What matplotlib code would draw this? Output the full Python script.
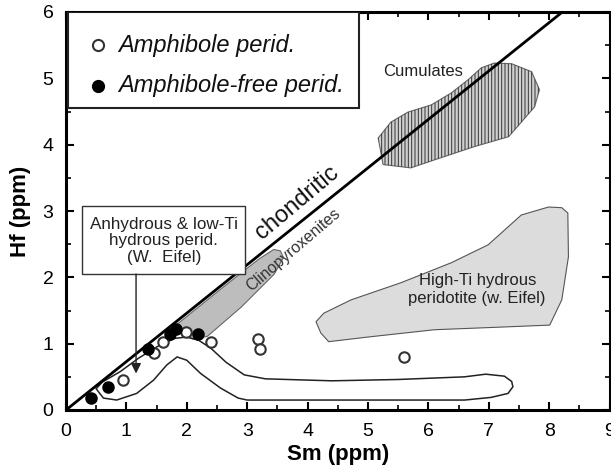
import matplotlib
matplotlib.use("Agg")
import matplotlib.pyplot as plt
from matplotlib.patches import Polygon
from matplotlib.ticker import MultipleLocator

plt.rcParams['font.family'] = ['Liberation Sans', 'DejaVu Sans']
plt.rcParams['hatch.linewidth'] = 0.7

# Sample data (Sm, Hf in ppm)
amph_sm = [0.95, 1.45, 1.61, 1.99, 2.40, 3.18, 3.21, 5.59]
amph_hf = [0.45, 0.86, 1.02, 1.18, 1.03, 1.07, 0.92, 0.80]
free_sm = [0.41, 0.70, 1.35, 1.72, 1.82, 2.19]
free_hf = [0.18, 0.35, 0.92, 1.15, 1.22, 1.15]

# Chondritic Hf/Sm ratio
chondritic_ratio = 0.73

# Field outlines
cumulates_sm = [5.17, 5.25, 5.71, 6.10, 6.76, 7.33, 7.76, 7.84, 7.71, 7.38, 7.09,
                6.88, 6.66, 6.38, 6.05, 5.66, 5.38]
cumulates_hf = [4.10, 3.70, 3.65, 3.77, 3.97, 4.12, 4.57, 4.83, 5.10, 5.22, 5.23,
                5.16, 4.98, 4.78, 4.60, 4.49, 4.34]

highti_sm = [4.14, 4.22, 4.35, 5.00, 6.10, 7.21, 8.01, 8.21, 8.32, 8.31, 8.21,
             7.99, 7.54, 6.99, 6.38, 5.55, 4.72, 4.27]
highti_hf = [1.33, 1.16, 1.03, 1.10, 1.21, 1.25, 1.28, 1.66, 2.31, 2.97, 3.05,
             3.06, 2.94, 2.49, 2.22, 1.92, 1.66, 1.46]

cpx_sm = [1.85, 2.6, 3.2, 3.44, 3.55, 3.60, 3.45, 2.9, 2.34, 2.1, 1.92]
cpx_hf = [1.30, 1.85, 2.28, 2.42, 2.40, 2.30, 2.05, 1.55, 1.11, 1.07, 1.15]

anhyd_sm = [0.50, 0.60, 0.90, 1.20, 1.50, 1.80, 2.00, 2.20, 2.40, 2.65, 2.95, 3.30,
            4.40, 5.50, 6.60, 6.95, 7.26, 7.38, 7.40, 7.32, 7.04, 6.60, 3.00, 2.85,
            2.56, 2.23, 2.00, 1.84, 1.67, 1.45, 1.17, 0.84, 0.62, 0.55]
anhyd_hf = [0.32, 0.42, 0.58, 0.78, 0.95, 1.08, 1.10, 1.05, 0.93, 0.72, 0.53, 0.47,
            0.44, 0.46, 0.50, 0.54, 0.51, 0.43, 0.35, 0.25, 0.19, 0.15, 0.15, 0.18,
            0.33, 0.55, 0.75, 0.80, 0.68, 0.45, 0.25, 0.15, 0.18, 0.26]

x_ticks = [0, 1, 2, 3, 4, 5, 6, 7, 8, 9]
y_ticks = [0, 1, 2, 3, 4, 5, 6]

fig = plt.figure(figsize=(6.11, 4.76), dpi=100)
ax = fig.add_axes([66 / 611, 1 - 410 / 476, 543.5 / 611, 398 / 476])
ax.set_xlim(0, 9)
ax.set_ylim(0, 6)

# Fields
ax.add_patch(Polygon(list(zip(highti_sm, highti_hf)), closed=True,
                     facecolor='#dcdcdc', edgecolor='#555555', lw=0.8, zorder=1))
ax.add_patch(Polygon(list(zip(cumulates_sm, cumulates_hf)), closed=True,
                     facecolor='#d0d0d0', edgecolor='#666666', lw=0.8, zorder=1))
ax.add_patch(Polygon(list(zip(cumulates_sm, cumulates_hf)), closed=True,
                     facecolor='none', edgecolor='#333333', lw=0, hatch='|||||',
                     zorder=1.1))
ax.add_patch(Polygon(list(zip(cpx_sm, cpx_hf)), closed=True,
                     facecolor='#bdbdbd', edgecolor='#666666', lw=0.8, zorder=1))
ax.add_patch(Polygon(list(zip(anhyd_sm, anhyd_hf)), closed=True,
                     facecolor='none', edgecolor='#222222', lw=1.1, zorder=2))

# Chondritic reference line
ax.plot([0, 9], [0, 9 * chondritic_ratio], color='black', lw=2, zorder=3)

# Samples
ax.plot(amph_sm, amph_hf, 'o', ms=7.5, mfc='white', mec='#333333', mew=1.5,
        zorder=4, clip_on=False)
ax.plot(free_sm, free_hf, 'o', ms=8, mfc='black', mec='black', mew=1,
        zorder=5, clip_on=False)

# Labels on the diagram
ax.text(3.82, 3.12, 'chondritic', rotation=40, fontsize=17, ha='center',
        va='center', rotation_mode='anchor', color='#111111')
ax.text(3.76, 2.41, 'Clinopyroxenites', rotation=40.5, fontsize=11.5, ha='center',
        va='center', rotation_mode='anchor', color='#333333', zorder=3.5)
ax.text(5.91, 5.10, 'Cumulates', fontsize=12, ha='center', va='center',
        color='#222222')
ax.text(6.81, 1.81, 'High-Ti hydrous\nperidotite (w. Eifel)', fontsize=12,
        ha='center', va='center', color='#222222', linespacing=1.25)

# Annotation box with arrow
ax.add_patch(Polygon([(0.27, 2.05), (2.97, 2.05), (2.97, 3.08), (0.27, 3.08)],
                     closed=True, facecolor='white', edgecolor='#333333',
                     lw=1.0, zorder=6))
ax.text(1.62, 2.55, 'Anhydrous & low-Ti\nhydrous perid.\n(W.  Eifel)', fontsize=12.3,
        ha='center', va='center', color='#222222', linespacing=1.15, zorder=7)
ax.annotate('', xy=(1.16, 0.55), xytext=(1.16, 2.05),
            arrowprops=dict(arrowstyle='-|>', color='#222222', lw=1.0,
                            mutation_scale=15, shrinkA=0, shrinkB=0),
            zorder=6)

# Legend box
ax.add_patch(Polygon([(0.03, 4.56), (4.85, 4.56), (4.85, 6.0), (0.03, 6.0)],
                     closed=True, facecolor='white', edgecolor='#222222',
                     lw=1.5, zorder=6))
ax.plot([0.53], [5.50], 'o', ms=8, mfc='white', mec='#333333', mew=1.5, zorder=7)
ax.plot([0.53], [4.89], 'o', ms=8.5, mfc='black', mec='black', zorder=7)
ax.text(0.86, 5.50, 'Amphibole perid.', fontsize=17, style='italic',
        ha='left', va='center', color='#111111', zorder=7)
ax.text(0.86, 4.89, 'Amphibole-free perid.', fontsize=17, style='italic',
        ha='left', va='center', color='#111111', zorder=7)

# Axes styling
ax.set_xticks(x_ticks)
ax.set_yticks(y_ticks)
ax.xaxis.set_minor_locator(MultipleLocator(0.5))
ax.yaxis.set_minor_locator(MultipleLocator(0.5))
ax.tick_params(which='both', direction='in', top=True, right=True,
               labelsize=14, colors='black')
ax.tick_params(axis='x', which='major', length=6, width=1.5, pad=9)
ax.tick_params(axis='y', which='major', length=6, width=1.5, pad=9)
ax.tick_params(which='minor', length=3.5, width=1.2)
for sp in ax.spines.values():
    sp.set_linewidth(2.2)
ax.set_xlabel('Sm (ppm)', fontsize=16, fontweight='bold', labelpad=3)
ax.set_ylabel('Hf (ppm)', fontsize=16, fontweight='bold', labelpad=8)

fig.savefig('out.png', dpi=100)
